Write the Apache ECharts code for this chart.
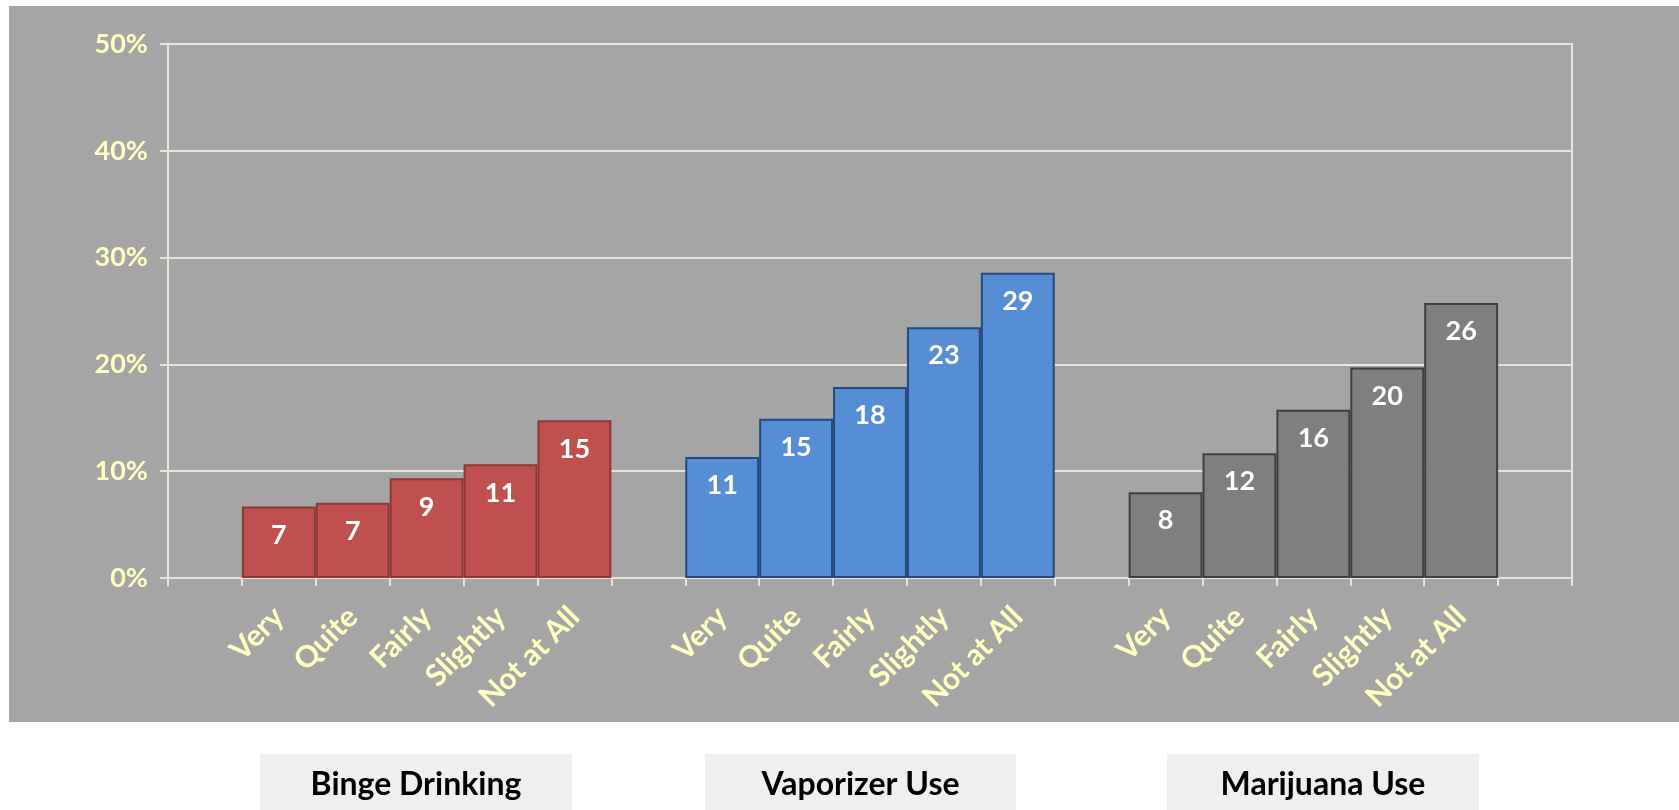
<!DOCTYPE html>
<html>
<head>
<meta charset="utf-8">
<script src="https://cdn.jsdelivr.net/npm/echarts@6/dist/echarts.min.js"></script>
<style>
  html, body { margin: 0; padding: 0; background: #fff; }
  #chart { width: 1679px; height: 810px; }
</style>
</head>
<body>
<div id="chart"></div>
<script>
// answer categories, repeated for each behaviour group
const levels = ['Very', 'Quite', 'Fairly', 'Slightly', 'Not at All']
const groups = ['Binge Drinking', 'Vaporizer Use', 'Marijuana Use']

// percent values
const bingeDrinking = [6.7, 7.05, 9.33, 10.64, 14.76]
const vaporizerUse = [11.32, 14.92, 17.88, 23.48, 28.57]
const marijuanaUse = [8.04, 11.68, 15.76, 19.72, 25.76]

const yTicks = [0, 10, 20, 30, 40, 50]

const colors = [
  { fill: '#c0504d', border: '#8c3836' },
  { fill: '#558ed5', border: '#254a7a' },
  { fill: '#7f7f7f', border: '#3f3f3f' },
]

// one empty slot before each group and one after the last
const xData = []
for (let g = 0; g < groups.length; g++) {
  xData.push('')
  xData.push(...levels)
}
xData.push('')

function padSeries(values, groupIndex) {
  const out = xData.map(() => '-')
  const start = groupIndex * (levels.length + 1) + 1
  values.forEach((v, i) => { out[start + i] = v })
  return out
}

const lineColor = '#e8e4d8'
const yellow = '#ffffc0'
const font = 'Lato, "Open Sans", sans-serif'

const chart = echarts.init(document.getElementById('chart'))

const seriesValues = [bingeDrinking, vaporizerUse, marijuanaUse]

const option = {
  backgroundColor: '#ffffff',
  animation: false,
  graphic: [
    {
      type: 'rect',
      z: -100,
      shape: { x: 9, y: 6, width: 1670, height: 716 },
      style: { fill: '#a5a5a5' },
    },
    ...[
      { x: 260, w: 312 },
      { x: 705, w: 311 },
      { x: 1167, w: 312 },
    ].map((b, i) => ({
      type: 'group',
      children: [
        {
          type: 'rect',
          shape: { x: b.x, y: 754, width: b.w, height: 60 },
          style: { fill: '#efefef' },
        },
        {
          type: 'text',
          x: b.x + b.w / 2,
          y: 785,
          style: {
            text: groups[i],
            fill: '#000',
            font: 'bold 32px ' + font,
            textAlign: 'center',
            textVerticalAlign: 'middle',
          },
        },
      ],
    })),
  ],
  grid: {
    left: 168,
    right: 107,
    top: 44,
    bottom: 232,
    show: true,
    borderColor: lineColor,
    borderWidth: 2,
    backgroundColor: 'transparent',
    outerBoundsMode: 'none',
    containLabel: false,
  },
  xAxis: {
    type: 'category',
    data: xData,
    boundaryGap: true,
    axisLine: { lineStyle: { color: lineColor, width: 2 } },
    axisTick: { show: true, length: 8, interval: 0, lineStyle: { color: lineColor, width: 2 } },
    axisLabel: {
      interval: 0,
      rotate: 45,
      margin: 34,
      color: yellow,
      fontFamily: font,
      fontWeight: 'bold',
      fontSize: 30,
    },
    splitLine: { show: false },
  },
  yAxis: {
    type: 'value',
    min: yTicks[0],
    max: yTicks[yTicks.length - 1],
    interval: 10,
    axisLine: { show: true, lineStyle: { color: lineColor, width: 2 } },
    axisTick: { show: true, length: 8, lineStyle: { color: lineColor, width: 2 } },
    axisLabel: {
      formatter: '{value}%',
      margin: 20,
      color: yellow,
      fontFamily: font,
      fontWeight: 'bold',
      fontSize: 27,
    },
    splitLine: { lineStyle: { color: lineColor, width: 2 } },
  },
  series: seriesValues.map((vals, i) => ({
    name: groups[i],
    type: 'bar',
    data: padSeries(vals, i),
    barGap: '-100%',
    barCategoryGap: '0%',
    itemStyle: {
      color: colors[i].fill,
      borderColor: colors[i].border,
      borderWidth: 2,
    },
    label: {
      show: true,
      position: 'insideTop',
      distance: 15,
      color: '#ffffff',
      fontFamily: font,
      fontWeight: 'bold',
      fontSize: 27,
      formatter: (p) => Math.round(p.value),
    },
  })),
}

chart.setOption(option)
</script>
</body>
</html>
